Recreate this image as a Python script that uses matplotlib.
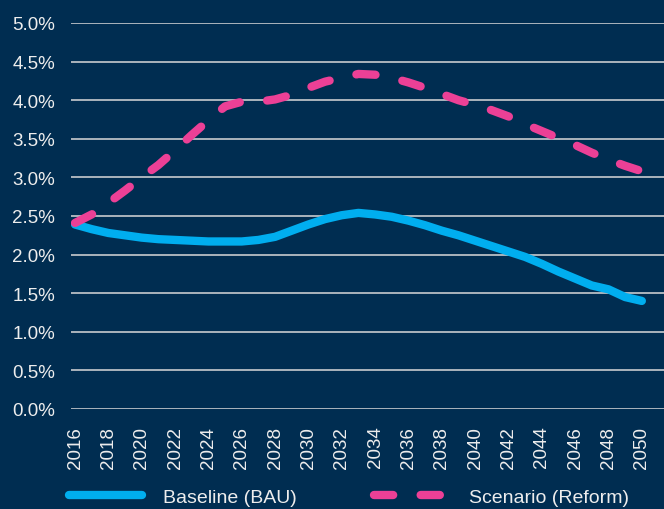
import numpy as np
import matplotlib
matplotlib.use('agg')
from matplotlib import pyplot as plt

# values (annual, percent)
years = np.arange(2016, 2051)
baseline = [2.39, 2.33, 2.28, 2.25, 2.22, 2.20, 2.19, 2.18, 2.17, 2.17,
            2.17, 2.19, 2.23, 2.31, 2.39, 2.46, 2.51, 2.54, 2.52, 2.49,
            2.44, 2.38, 2.31, 2.25, 2.18, 2.11, 2.04, 1.97, 1.88, 1.78,
            1.69, 1.60, 1.55, 1.45, 1.40]
scenario = [2.41, 2.52, 2.67, 2.83, 3.00, 3.16, 3.35, 3.55, 3.74, 3.92,
            3.98, 3.98, 4.01, 4.07, 4.16, 4.24, 4.29, 4.34, 4.33, 4.29,
            4.23, 4.16, 4.08, 4.00, 3.94, 3.87, 3.79, 3.69, 3.60, 3.51,
            3.42, 3.32, 3.23, 3.15, 3.08]
series_names = ['Baseline (BAU)', 'Scenario (Reform)']
y_ticks = np.arange(0, 5.01, 0.5)
x_ticks = years[::2]

bg = '#002D51'
txt = '#EDEDED'
plt.rcParams['font.family'] = ['Liberation Sans', 'DejaVu Sans']

fig = plt.figure(figsize=(6.64, 5.10), dpi=100, facecolor=bg)
ax = fig.add_axes([71 / 664, 100 / 510, 1 - 71 / 664, 386 / 510])
ax.set_facecolor(bg)

ax.plot(years, np.array(baseline) / 100, color='#00AEEF', lw=6,
        solid_capstyle='round', solid_joinstyle='round', label=series_names[0])
ax.plot(years, np.array(scenario) / 100, color='#EC4096', lw=6,
        dashes=(2.3, 3.3), dash_capstyle='round', label=series_names[1])

ax.set_ylim(0, 0.05)
ax.set_yticks(y_ticks / 100)
ax.set_yticklabels([f'{v:.1f}%' for v in y_ticks])
ax.set_xlim(2015.76, 2051.33)
ax.set_xticks(x_ticks)
ax.set_xticklabels([str(y) for y in x_ticks], rotation=90)

ax.grid(axis='y', color='#D9D9D9', lw=1.1)
ax.set_axisbelow(True)
for s in ax.spines.values():
    s.set_visible(False)
ax.tick_params(axis='both', length=0, labelsize=13.5, labelcolor=txt)
ax.tick_params(axis='y', pad=11.5)
ax.tick_params(axis='x', pad=12)

leg = fig.legend(loc='center', bbox_to_anchor=(0.525, 0.023), ncol=2,
                 frameon=False, fontsize=14, handlelength=3.8,
                 handletextpad=1.05, columnspacing=4.0, labelcolor=txt)

fig.savefig('out.png', dpi=100, facecolor=bg)
